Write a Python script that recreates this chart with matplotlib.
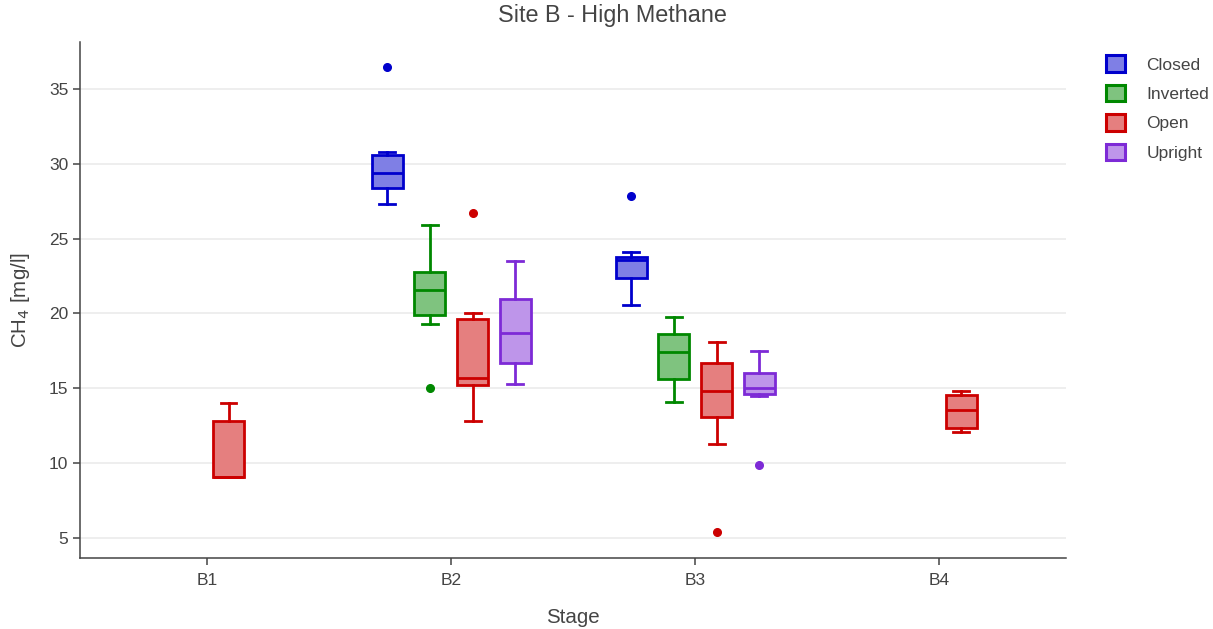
import matplotlib
matplotlib.use("Agg")
import matplotlib.pyplot as plt
from matplotlib.patches import Patch

plt.rcParams["font.family"] = ["Liberation Sans", "DejaVu Sans"]

stages = ["B1", "B2", "B3", "B4"]
groups = ["Closed", "Inverted", "Open", "Upright"]

# per-group box statistics: stage -> (whislo, q1, med, q3, whishi, fliers)
closed = {
    "B2": (27.3, 28.4, 29.4, 30.6, 30.8, [36.5]),
    "B3": (20.6, 22.4, 23.6, 23.8, 24.1, [27.85]),
}
inverted = {
    "B2": (19.3, 19.9, 21.6, 22.8, 25.9, [15.0]),
    "B3": (14.1, 15.6, 17.4, 18.6, 19.75, []),
}
open_ = {
    "B1": (9.1, 9.1, 9.1, 12.8, 14.0, []),
    "B2": (12.8, 15.2, 15.7, 19.6, 20.0, [26.7]),
    "B3": (11.3, 13.1, 14.8, 16.7, 18.1, [5.4]),
    "B4": (12.05, 12.35, 13.55, 14.55, 14.8, []),
}
upright = {
    "B2": (15.3, 16.7, 18.7, 21.0, 23.5, []),
    "B3": (14.5, 14.65, 15.0, 16.0, 17.5, [9.85]),
}

line_colors = ["#0000cc", "#008800", "#cc0000", "#7d2ad6"]
fill_colors = ["#7f7fe5", "#7fc37f", "#e57f7f", "#be95ea"]
offsets = [-0.262, -0.087, 0.089, 0.262]
box_w = 0.127
lw = 2.0

fig = plt.figure(figsize=(12.13, 6.29), dpi=100)
ax = fig.add_axes([0.066, 0.113, 0.813, 0.82])

for g, (data, lc, fc, off) in enumerate(zip([closed, inverted, open_, upright],
                                             line_colors, fill_colors, offsets)):
    stats, pos = [], []
    for s, (lo, q1, med, q3, hi, fl) in data.items():
        stats.append(dict(whislo=lo, q1=q1, med=med, q3=q3, whishi=hi, fliers=fl))
        pos.append(stages.index(s) + off)
    ax.bxp(stats, positions=pos, widths=box_w, capwidths=box_w * 0.5,
           patch_artist=True, showfliers=True,
           boxprops=dict(facecolor=fc, edgecolor=lc, linewidth=lw),
           medianprops=dict(color=lc, linewidth=lw),
           whiskerprops=dict(color=lc, linewidth=lw),
           capprops=dict(color=lc, linewidth=lw),
           flierprops=dict(marker="o", markerfacecolor=lc, markeredgecolor=lc,
                           markersize=5.5))

ax.set_xlim(-0.52, 3.52)
ax.set_ylim(3.66, 38.14)
ax.set_xticks(range(len(stages)))
ax.set_xticklabels(stages)
ax.set_yticks([5, 10, 15, 20, 25, 30, 35])
ax.yaxis.grid(True, color="#ebebeb", linewidth=1.2)
ax.set_axisbelow(True)

for side in ["top", "right"]:
    ax.spines[side].set_visible(False)
for side in ["left", "bottom"]:
    ax.spines[side].set_color("#444444")
    ax.spines[side].set_linewidth(1.1)
ax.tick_params(colors="#444444", labelsize=12.5, length=5, width=1.1)
ax.tick_params(axis="x", pad=6)

ax.set_xlabel("Stage", fontsize=14.8, color="#444444", labelpad=14)
ax.set_ylabel("CH$_4$ [mg/l]", fontsize=14.8, color="#444444", labelpad=12)
fig.text(0.505, 0.975, "Site B - High Methane", ha="center", va="center",
         fontsize=16.8, color="#444444")

handles = [Patch(facecolor=fc, edgecolor=lc, linewidth=2.2, label=g)
           for g, lc, fc in zip(groups, line_colors, fill_colors)]
fig.legend(handles=handles, loc="upper left", bbox_to_anchor=(0.912, 0.912),
           frameon=False, fontsize=12.5, handlelength=1.1, handleheight=1.1,
           handletextpad=1.2, labelspacing=0.7, borderpad=0, borderaxespad=0,
           labelcolor="#444444")

fig.savefig("out.png", dpi=100)
